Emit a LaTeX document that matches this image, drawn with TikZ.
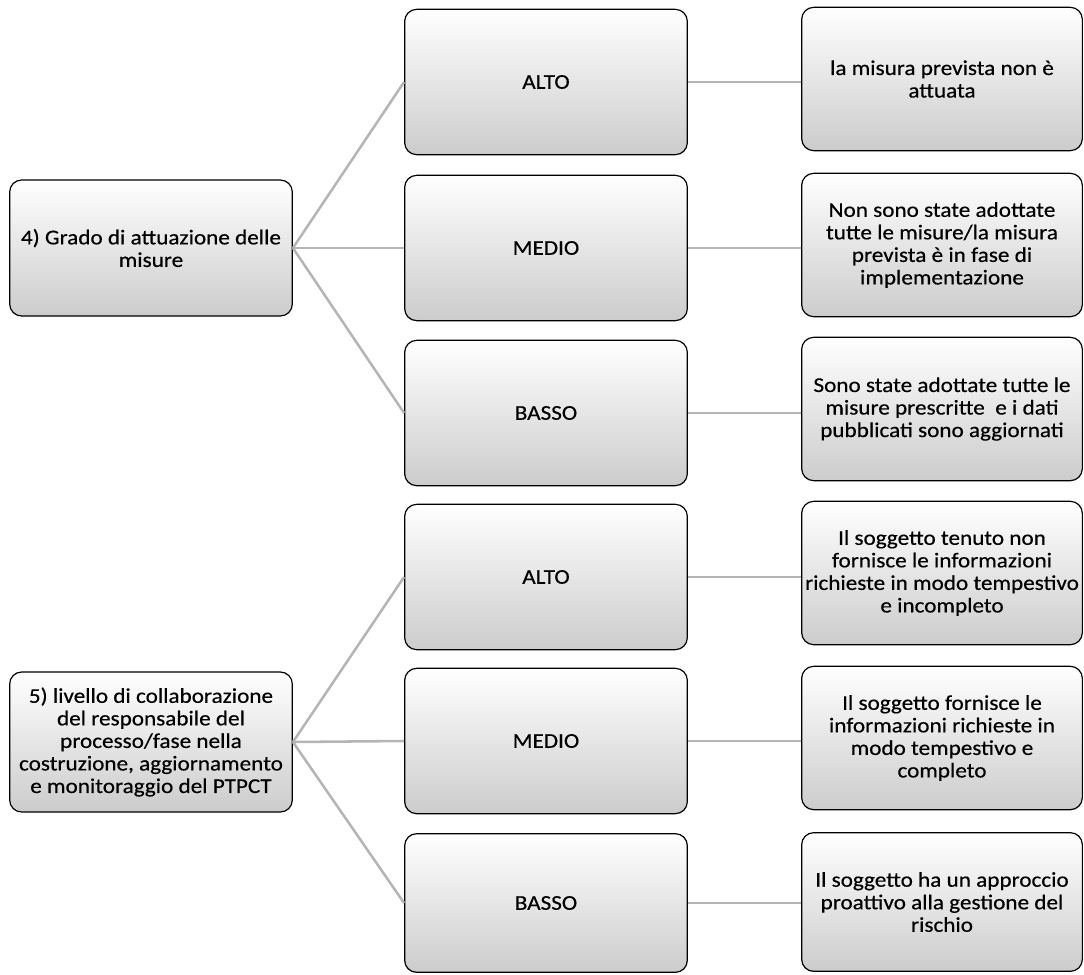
\documentclass[tikz,border=0pt]{standalone}
\usepackage{fontspec}
\setmainfont[FakeStretch=1.1,FakeBold=0.4]{Carlito}
\begin{document}
\begin{tikzpicture}[x=0.75pt,y=-0.75pt,
  box/.style={draw=black, line width=0.9pt, rounded corners=9pt,
    top color=white, bottom color=gray!40, align=center, inner sep=1pt,
    font=\fontsize{15.8}{16.9}\selectfont},
  leftbox/.style={box, minimum width=212pt},
  midbox/.style={box, minimum width=212pt, minimum height=109pt},
  rightbox/.style={box, minimum width=210.5pt, minimum height=107.5pt},
  link/.style={draw=gray!58, line width=1.9pt}]
\useasboundingbox (0,0) rectangle (1084,974);

% root boxes
\node[leftbox, minimum height=102pt] (L1) at (151,248)
  {4) Grado di attuazione delle\\misure};
\node[leftbox, minimum height=105pt] (L2) at (151,742)
  {5) livello di collaborazione\\del responsabile del\\processo/fase nella\\costruzione, aggiornamento\\e monitoraggio del PTPCT};

% level boxes
\node[midbox] (A1) at (546,82) {ALTO};
\node[midbox] (M1) at (546,248) {MEDIO};
\node[midbox] (B1) at (546,413) {BASSO};
\node[midbox] (A2) at (546,577) {ALTO};
\node[midbox] (M2) at (546,741) {MEDIO};
\node[midbox, minimum height=104pt] (B2) at (546,903) {BASSO};

% description boxes
\node[rightbox] (R1) at (942,79) {la misura prevista non è\\attuata};
\node[rightbox] (R2) at (942,245) {Non sono state adottate\\tutte le misure/la misura\\prevista è in fase di\\implementazione};
\node[rightbox] (R3) at (942,409) {Sono state adottate tutte le\\misure prescritte~ e i dati\\pubblicati sono aggiornati};
\node[rightbox] (R4) at (942,573) {Il soggetto tenuto non\\fornisce le informazioni\\richieste in modo tempestivo\\e incompleto};
\node[rightbox] (R5) at (942,738) {Il soggetto fornisce le\\informazioni richieste in\\modo tempestivo e\\completo};
\node[rightbox, minimum height=104pt] (R6) at (942,902) {Il soggetto ha un approccio\\proattivo alla gestione del\\rischio};

% branches from the root boxes
\foreach \m in {A1,M1,B1} \draw[link] (L1.east) -- (\m.west);
\foreach \m in {A2,M2,B2} \draw[link] (L2.east) -- (\m.west);

% links to the descriptions
\foreach \m/\r in {A1/R1,M1/R2,B1/R3,A2/R4,M2/R5,B2/R6}
  \draw[link] (\m.east) -- (\m.east -| \r.west);
\end{tikzpicture}
\end{document}
